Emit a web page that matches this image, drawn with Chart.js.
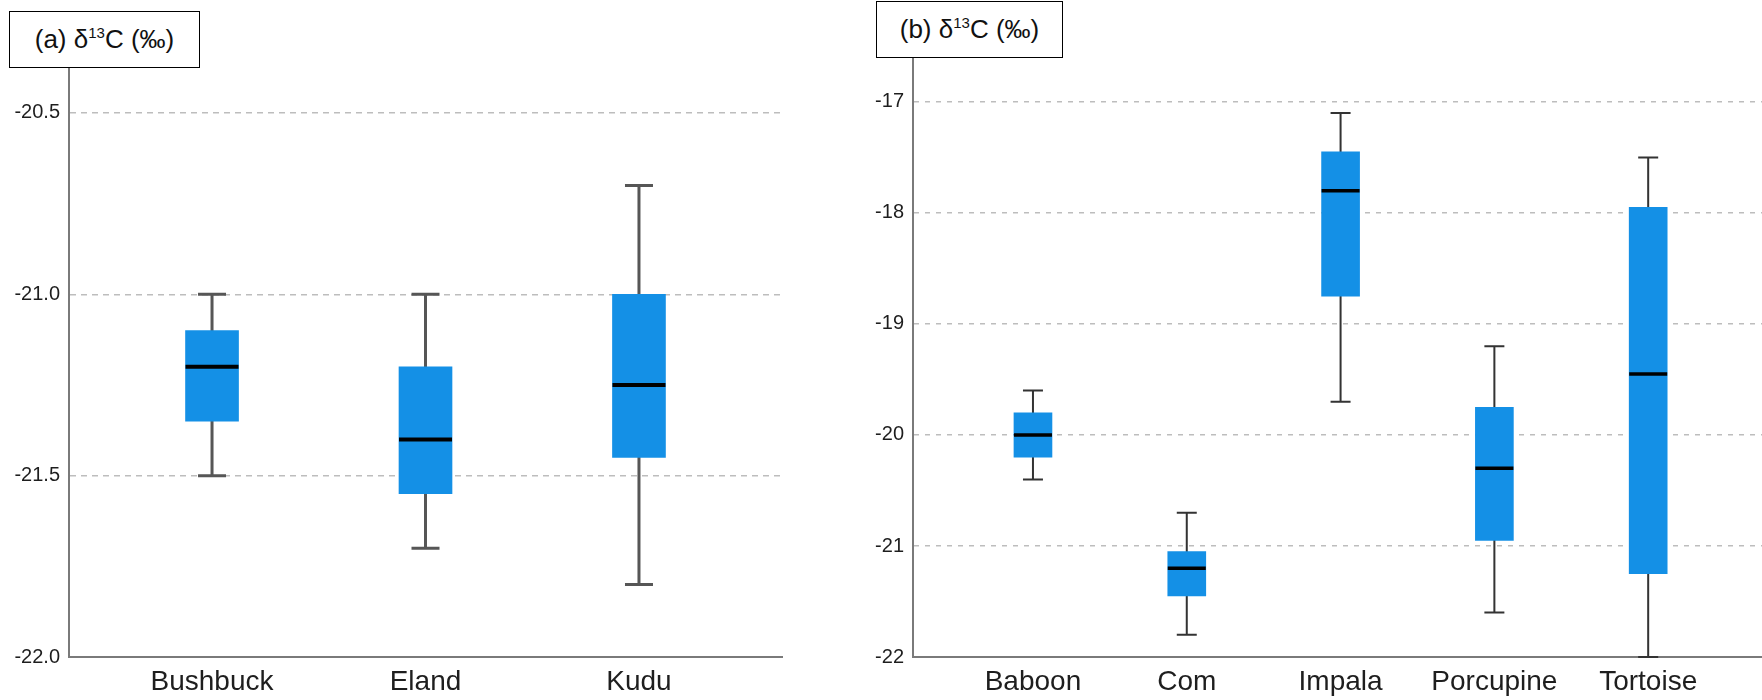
<!DOCTYPE html>
<html>
<head>
<meta charset="utf-8">
<script src="https://cdn.jsdelivr.net/npm/chart.js@4.4.1/dist/chart.umd.min.js"></script>
<style>
  body { margin: 0; background: #fff; width: 1762px; height: 700px; overflow: hidden; position: relative;
         font-family: 'Liberation Sans', Arial, sans-serif; }
  .panel { position: absolute; top: 0; height: 700px; }
  #panelA { left: 0; width: 800px; }
  #panelB { left: 850px; width: 912px; }
  .tag { position: absolute; box-sizing: border-box; background: #fff; border: 1.5px solid #000;
         display: flex; align-items: center; justify-content: center; font-size: 26px; color: #111; z-index: 2; }
  .tag sup { font-size: 15px; vertical-align: 10px; line-height: 0; }
  #tagA { left: 9px; top: 11px; width: 191px; height: 57px; }
  #tagB { left: 876px; top: 1px; width: 187px; height: 57px; }
</style>
</head>
<body>
<div class="panel" id="panelA"><canvas id="chartA"></canvas></div>
<div class="panel" id="panelB"><canvas id="chartB"></canvas></div>
<div class="tag" id="tagA"><span>(a) δ<sup>13</sup>C (‰)</span></div>
<div class="tag" id="tagB"><span>(b) δ<sup>13</sup>C (‰)</span></div>

<script>
// --- (a) browsers ---
const SPECIES_A      = ['Bushbuck', 'Eland', 'Kudu'];
const WHISKER_LOW_A  = [-21.5, -21.7, -21.8];
const Q1_A           = [-21.35, -21.55, -21.45];
const MEDIAN_A       = [-21.2, -21.4, -21.25];
const Q3_A           = [-21.1, -21.2, -21.0];
const WHISKER_HIGH_A = [-21.0, -21.0, -20.7];
const Y_TICKS_A      = [-22.0, -21.5, -21.0, -20.5];

// --- (b) mixed feeders ---
const SPECIES_B      = ['Baboon', 'Com', 'Impala', 'Porcupine', 'Tortoise'];
const WHISKER_LOW_B  = [-20.4, -21.8, -19.7, -21.6, -22.0];
const Q1_B           = [-20.2, -21.45, -18.75, -20.95, -21.25];
const MEDIAN_B       = [-20.0, -21.2, -17.8, -20.3, -19.45];
const Q3_B           = [-19.8, -21.05, -17.45, -19.75, -17.95];
const WHISKER_HIGH_B = [-19.6, -20.7, -17.1, -19.2, -17.5];
const Y_TICKS_B      = [-22, -21, -20, -19, -18, -17];

const BOX_BLUE   = '#1490e6';
const AXIS_GREY  = '#7a7a7a';
const GRID_GREY  = '#bdbdbd';
const LABEL_INK  = '#1e1e1e';
const FONT       = "'Liberation Sans', Arial, sans-serif";

// whiskers go under the boxes, medians on top
const boxWhiskers = {
  id: 'boxWhiskers',
  beforeDatasetsDraw(chart, args, o) {
    const { ctx, scales: { x, y } } = chart;
    ctx.save();
    ctx.strokeStyle = o.color;
    ctx.lineWidth = o.width;
    o.low.forEach((lo, i) => {
      const px = x.getPixelForValue(i);
      const yLo = y.getPixelForValue(lo);
      const yHi = y.getPixelForValue(o.high[i]);
      ctx.beginPath();
      ctx.moveTo(px, yLo); ctx.lineTo(px, yHi);
      ctx.moveTo(px - o.cap / 2, yLo); ctx.lineTo(px + o.cap / 2, yLo);
      ctx.moveTo(px - o.cap / 2, yHi); ctx.lineTo(px + o.cap / 2, yHi);
      ctx.stroke();
    });
    ctx.restore();
  },
  afterDatasetsDraw(chart, args, o) {
    const { ctx, scales: { x, y } } = chart;
    const bars = chart.getDatasetMeta(0).data;
    ctx.save();
    ctx.strokeStyle = '#000';
    ctx.lineWidth = o.medianWidth;
    o.median.forEach((m, i) => {
      const px = x.getPixelForValue(i);
      const half = bars[i].width / 2;
      const py = y.getPixelForValue(m);
      ctx.beginPath();
      ctx.moveTo(px - half, py); ctx.lineTo(px + half, py);
      ctx.stroke();
    });
    ctx.restore();
  },
};

function makeBoxChart(id, cfg) {
  return new Chart(document.getElementById(id), {
    type: 'bar',
    data: {
      datasets: [{
        data: cfg.labels.map((_, i) => ({ x: i, y: [cfg.q1[i], cfg.q3[i]] })),
        backgroundColor: BOX_BLUE,
        borderWidth: 0,
        barThickness: cfg.boxWidth,
      }],
    },
    options: {
      responsive: true,
      maintainAspectRatio: false,
      animation: false,
      layout: { padding: { top: cfg.top, right: cfg.right, left: 0, bottom: 0 } },
      plugins: {
        legend: { display: false },
        tooltip: { enabled: false },
        boxWhiskers: {
          low: cfg.low, high: cfg.high, median: cfg.median,
          cap: cfg.cap, color: cfg.whiskerColor, width: cfg.whiskerWidth, medianWidth: cfg.medianWidth,
        },
      },
      scales: {
        x: {
          type: 'linear',
          offset: false,
          min: cfg.xMin, max: cfg.xMax,
          grid: { display: false, drawTicks: false },
          border: { display: true, color: AXIS_GREY, width: 2 },
          afterBuildTicks: axis => { axis.ticks = cfg.labels.map((_, i) => ({ value: i })); },
          afterFit: axis => { axis.height = 43; },
          ticks: {
            callback: v => cfg.labels[v],
            color: LABEL_INK, padding: 8, maxRotation: 0, autoSkip: false,
            font: { family: FONT, size: 28 },
          },
        },
        y: {
          min: -22, max: cfg.yMax,
          grid: { color: GRID_GREY, lineWidth: 1.5, drawTicks: false },
          border: { display: true, color: AXIS_GREY, width: 2, dash: cfg.dash },
          afterBuildTicks: axis => { axis.ticks = cfg.yTicks.map(v => ({ value: v })); },
          afterFit: axis => { axis.width = cfg.yWidth; },
          ticks: {
            callback: v => v.toFixed(cfg.decimals),
            color: LABEL_INK, padding: 9,
            font: { family: FONT, size: 20 },
          },
        },
      },
    },
    plugins: [boxWhiskers],
  });
}

makeBoxChart('chartA', {
  labels: SPECIES_A, low: WHISKER_LOW_A, q1: Q1_A, median: MEDIAN_A, q3: Q3_A, high: WHISKER_HIGH_A,
  yTicks: Y_TICKS_A, decimals: 1, yMax: -20.354,
  xMin: -0.67, xMax: 2.67,
  top: 60, right: 18, yWidth: 69,
  boxWidth: 53, cap: 28, whiskerColor: '#565656', whiskerWidth: 3, medianWidth: 4,
  dash: [6, 5],
});

makeBoxChart('chartB', {
  labels: SPECIES_B, low: WHISKER_LOW_B, q1: Q1_B, median: MEDIAN_B, q3: Q3_B, high: WHISKER_HIGH_B,
  yTicks: Y_TICKS_B, decimals: 0, yMax: -16.532,
  xMin: -0.78, xMax: 4.74,
  top: 50, right: 0, yWidth: 63,
  boxWidth: 38, cap: 20, whiskerColor: '#333333', whiskerWidth: 2, medianWidth: 3.5,
  dash: [5, 6],
});
</script>
</body>
</html>
